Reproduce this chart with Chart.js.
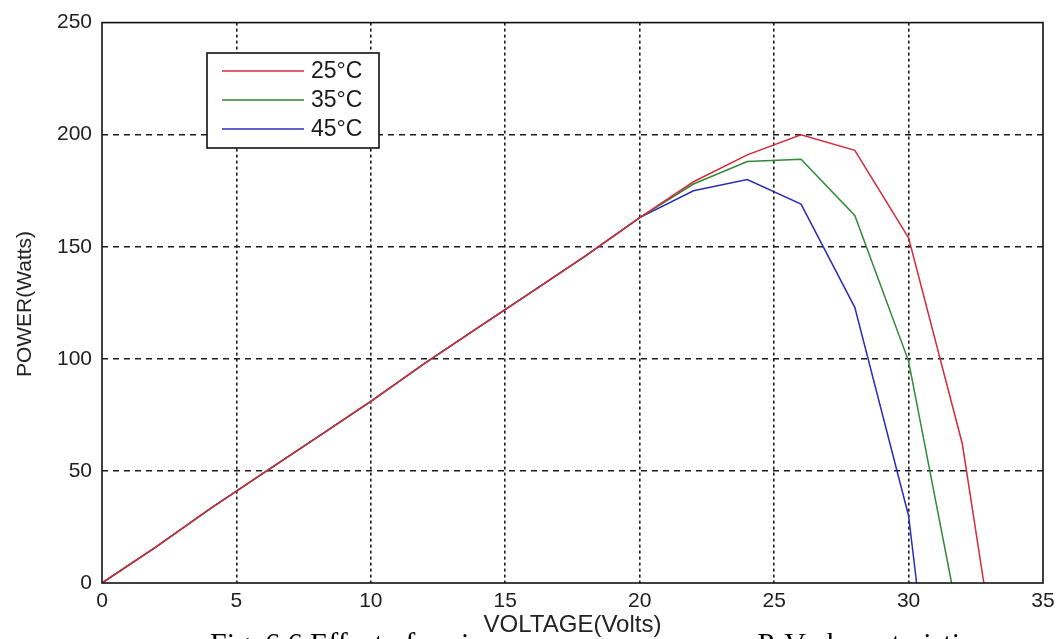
<!DOCTYPE html>
<html>
<head>
<meta charset="utf-8">
<script src="https://cdn.jsdelivr.net/npm/chart.js@4.4.1/dist/chart.umd.min.js"></script>
<style>
  html, body { margin: 0; padding: 0; background: #fff; }
  canvas { display: block; }
</style>
</head>
<body>
<canvas id="pvChart" width="1062" height="639"></canvas>
<script>
// values (voltage in volts, power in watts)
var labels = ['25°C', '35°C', '45°C'];
var colors = ['#d42a3e', '#2f8a38', '#2c2cb4'];

var voltage25 = [0, 2, 4, 6, 8, 10, 12, 14, 16, 18, 20, 22, 24, 26, 28, 30, 32, 32.8];
var power25   = [0, 16, 33, 49, 65, 81, 98, 114, 130, 146, 163, 179, 191, 200, 193, 154, 62, 0];

var voltage35 = [0, 2, 4, 6, 8, 10, 12, 14, 16, 18, 20, 22, 24, 26, 28, 30, 31.6];
var power35   = [0, 16, 33, 49, 65, 81, 98, 114, 130, 146, 163, 178, 188, 189, 164, 99, 0];

var voltage45 = [0, 2, 4, 6, 8, 10, 12, 14, 16, 18, 20, 22, 24, 26, 28, 30, 30.3];
var power45   = [0, 16, 33, 49, 65, 81, 98, 114, 130, 146, 163, 175, 180, 169, 123, 30, 0];

var xTicks = [0, 5, 10, 15, 20, 25, 30, 35];
var yTicks = [0, 50, 100, 150, 200, 250];

var xTitle = 'VOLTAGE(Volts)';
var yTitle = 'POWER(Watts)';
var caption = 'Fig. 6.6 Effect of variation of temperature on P-V characteristics';

var sans = 'Liberation Sans, Arial, sans-serif';

//pair up x and y arrays for the line
function toPoints(xs, ys) {
  var pts = [];
  for (var i = 0; i < xs.length; i++) {
    pts.push({ x: xs[i], y: ys[i] });
  }
  return pts;
}

//grid line colour, hide the ones sitting on the box edges
function gridColor(ctx, last) {
  if (ctx.index === 0 || ctx.index === last) return 'rgba(0,0,0,0)';
  return '#1e1e1e';
}

//box, legend, axis titles and the caption below
var decorations = {
  id: 'decorations',
  afterDraw: function(chart) {
    var ctx = chart.ctx;
    var area = chart.chartArea;
    ctx.save();

    // caption (partly hidden behind the axis title)
    ctx.fillStyle = '#000';
    ctx.font = '30px "Liberation Serif", "Times New Roman", serif';
    ctx.textAlign = 'left';
    ctx.textBaseline = 'alphabetic';
    ctx.fillText(caption, 210, 653);

    ctx.fillStyle = '#fff';
    ctx.fillRect(470, 611, 281, 40);

    // x title
    ctx.fillStyle = '#222';
    ctx.font = '24px ' + sans;
    ctx.textAlign = 'center';
    ctx.textBaseline = 'middle';
    ctx.fillText(xTitle, (area.left + area.right) / 2, 625);

    // y title
    ctx.save();
    ctx.translate(25, 304);
    ctx.rotate(-Math.PI / 2);
    ctx.font = '21px ' + sans;
    ctx.fillText(yTitle, 0, 0);
    ctx.restore();

    // plot box
    ctx.strokeStyle = '#111';
    ctx.lineWidth = 1.6;
    ctx.strokeRect(area.left, area.top, area.right - area.left, area.bottom - area.top);

    // legend
    var lx = 207, ly = 53, lw = 172, lh = 95;
    ctx.fillStyle = '#fff';
    ctx.fillRect(lx, ly, lw, lh);
    ctx.strokeStyle = '#111';
    ctx.lineWidth = 1.6;
    ctx.strokeRect(lx, ly, lw, lh);
    ctx.font = '23px ' + sans;
    ctx.textAlign = 'left';
    ctx.textBaseline = 'middle';
    chart.data.datasets.forEach(function(ds, i) {
      var y = 71 + i * 29;
      ctx.strokeStyle = ds.borderColor;
      ctx.lineWidth = 1.5;
      ctx.beginPath();
      ctx.moveTo(222, y);
      ctx.lineTo(304, y);
      ctx.stroke();
      ctx.fillStyle = '#1a1a1a';
      ctx.fillText(ds.label, 311, y + 1);
    });

    ctx.restore();
  }
};

var data = {
  datasets: [
    { label: labels[0], data: toPoints(voltage25, power25), borderColor: colors[0] },
    { label: labels[1], data: toPoints(voltage35, power35), borderColor: colors[1] },
    { label: labels[2], data: toPoints(voltage45, power45), borderColor: colors[2] }
  ]
};
data.datasets.forEach(function(ds) {
  ds.borderWidth = 1.5;
  ds.pointRadius = 0;
  ds.tension = 0;
  ds.fill = false;
});

var config = {
  type: 'line',
  data: data,
  options: {
    responsive: false,
    animation: false,
    devicePixelRatio: 1,
    layout: { padding: { top: 20, right: 19, left: 0, bottom: 0 } },
    plugins: {
      legend: { display: false },
      tooltip: { enabled: false }
    },
    scales: {
      x: {
        type: 'linear',
        min: xTicks[0],
        max: xTicks[xTicks.length - 1],
        afterBuildTicks: function(scale) {
          scale.ticks = xTicks.map(function(v) { return { value: v }; });
        },
        afterFit: function(scale) { scale.height = 56; },
        grid: {
          color: function(ctx) { return gridColor(ctx, xTicks.length - 1); },
          lineWidth: 1.6,
          drawTicks: false
        },
        border: { display: false, dash: [3, 3] },
        ticks: {
          padding: 6,
          color: '#1e1e1e',
          font: { family: sans, size: 21 }
        }
      },
      y: {
        type: 'linear',
        min: yTicks[0],
        max: yTicks[yTicks.length - 1],
        afterBuildTicks: function(scale) {
          scale.ticks = yTicks.map(function(v) { return { value: v }; });
        },
        afterFit: function(scale) { scale.width = 102; },
        grid: {
          color: function(ctx) { return gridColor(ctx, yTicks.length - 1); },
          lineWidth: 1.6,
          drawTicks: false
        },
        border: { display: false, dash: [6, 5] },
        ticks: {
          padding: 10,
          color: '#1e1e1e',
          font: { family: sans, size: 21 }
        }
      }
    }
  },
  plugins: [decorations]
};

var pvChart = new Chart(document.getElementById('pvChart'), config);
</script>
</body>
</html>
